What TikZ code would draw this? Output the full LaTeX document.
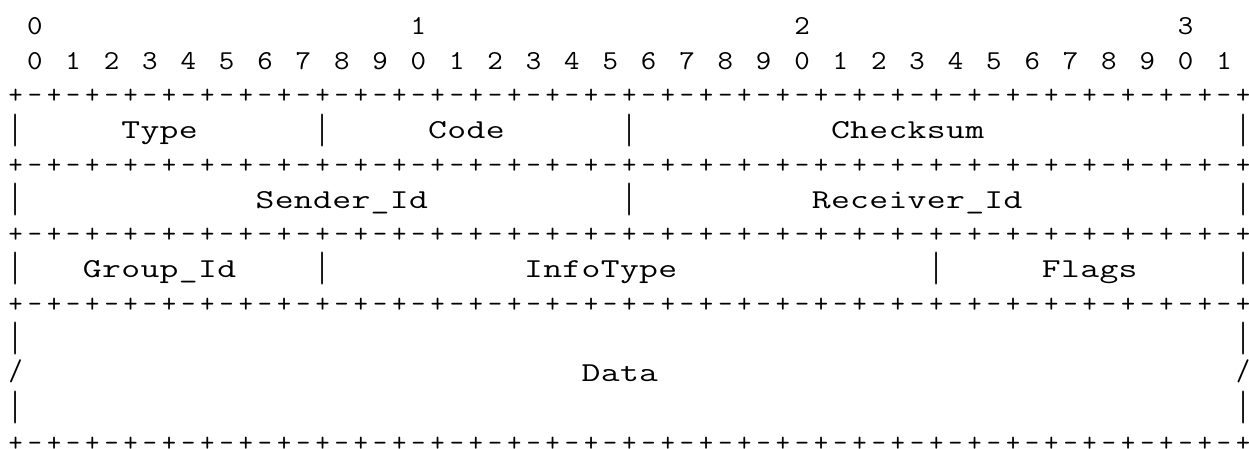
\documentclass[tikz,border=0pt]{standalone}
\usepackage{fontspec}
\usepackage{graphicx}
\newdimen\cellw \cellw=19.18pt
\def\hscale{1.34}
\def\endmono{EM}
\def\blank{BL}
\def\monoline#1{\monoaux#1\endmono}
\def\monoaux#1{%
  \ifx#1\endmono\let\next\relax
  \else\ifx#1\blank\let\next\monoblank
  \else\monochar{#1}\let\next\monoaux\fi\fi
  \next}
\def\monoblank#1{\kern#1\cellw\monoaux}
\def\monochar#1{\makebox[\cellw][c]{%
  \ifx#1+#1\else
  \ifx#1-#1\else
  \ifx#1/\raisebox{-1.6pt}{\resizebox*{\width}{23.3pt}{\raisebox{\depth}{#1}}}\else
  \ifx#1|\raisebox{-8pt}{\resizebox*{\width}{33pt}{\raisebox{\depth}{#1}}}\else
  \scalebox{\hscale}[1]{#1}\fi\fi\fi\fi}}
\def\border{+-+-+-+-+-+-+-+-+-+-+-+-+-+-+-+-+-+-+-+-+-+-+-+-+-+-+-+-+-+-+-+-+}
\begin{document}
\begin{tikzpicture}[x=1pt,y=-1pt,
  asciiline/.style={anchor=base west,inner sep=0pt,outer sep=0pt,
    font=\ttfamily\fontsize{27.3}{34.7}\selectfont}]
\useasboundingbox[fill=white] (0,0) rectangle (1249,448);
\def\lx{6.1}
\def\ly#1{34.3+34.74*#1}
\node[asciiline] (r0) at (\lx,{\ly{0}}) {\def\hscale{1.1}\monoline{\blank{1}0\blank{19}1\blank{19}2\blank{19}3}};
\node[asciiline] (r1) at (\lx,{\ly{1}}) {\def\hscale{1.1}\monoline{\blank{1}0\blank{1}1\blank{1}2\blank{1}3\blank{1}4\blank{1}5\blank{1}6\blank{1}7\blank{1}8\blank{1}9\blank{1}0\blank{1}1\blank{1}2\blank{1}3\blank{1}4\blank{1}5\blank{1}6\blank{1}7\blank{1}8\blank{1}9\blank{1}0\blank{1}1\blank{1}2\blank{1}3\blank{1}4\blank{1}5\blank{1}6\blank{1}7\blank{1}8\blank{1}9\blank{1}0\blank{1}1}};
\node[asciiline] (r2) at (\lx,{\ly{2}}) {\expandafter\monoline\expandafter{\border}};
\node[asciiline] (r3) at (\lx,{\ly{3}}) {\monoline{|\blank{5}Type\blank{6}|\blank{5}Code\blank{6}|\blank{10}Checksum\blank{13}|}};
\node[asciiline] (r4) at (\lx,{\ly{4}}) {\expandafter\monoline\expandafter{\border}};
\node[asciiline] (r5) at (\lx,{\ly{5}}) {\monoline{|\blank{12}Sender\_Id\blank{10}|\blank{9}Receiver\_Id\blank{11}|}};
\node[asciiline] (r6) at (\lx,{\ly{6}}) {\expandafter\monoline\expandafter{\border}};
\node[asciiline] (r7) at (\lx,{\ly{7}}) {\monoline{|\blank{3}Group\_Id\blank{4}|\blank{10}InfoType\blank{13}|\blank{5}Flags\blank{5}|}};
\node[asciiline] (r8) at (\lx,{\ly{8}}) {\expandafter\monoline\expandafter{\border}};
\node[asciiline] (r9) at (\lx,{\ly{9}}) {\monoline{|\blank{63}|}};
\node[asciiline] (r10) at (\lx,{\ly{10}}) {\monoline{/\blank{29}Data\blank{30}/}};
\node[asciiline] (r11) at (\lx,{\ly{11}}) {\monoline{|\blank{63}|}};
\node[asciiline] (r12) at (\lx,{\ly{12}}) {\expandafter\monoline\expandafter{\border}};
\end{tikzpicture}
\end{document}
